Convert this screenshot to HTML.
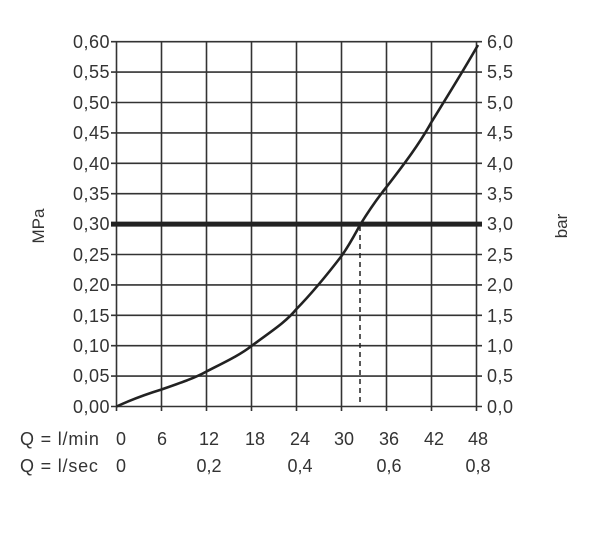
<!DOCTYPE html><html><head><style>body{margin:0;background:#fff}</style></head><body>
<svg width="613" height="530" xmlns="http://www.w3.org/2000/svg" font-family="Liberation Sans, sans-serif" font-size="18" fill="#333">
<g stroke="#333" stroke-width="1.6">
<line x1="116.5" y1="41.7" x2="116.5" y2="411"/>
<line x1="161.5" y1="41.7" x2="161.5" y2="411"/>
<line x1="206.5" y1="41.7" x2="206.5" y2="411"/>
<line x1="251.5" y1="41.7" x2="251.5" y2="411"/>
<line x1="296.5" y1="41.7" x2="296.5" y2="411"/>
<line x1="341.5" y1="41.7" x2="341.5" y2="411"/>
<line x1="386.5" y1="41.7" x2="386.5" y2="411"/>
<line x1="431.5" y1="41.7" x2="431.5" y2="411"/>
<line x1="476.5" y1="41.7" x2="476.5" y2="411"/>
<line x1="111" y1="41.7" x2="482" y2="41.7"/><line x1="111" y1="72.1" x2="482" y2="72.1"/><line x1="111" y1="102.5" x2="482" y2="102.5"/><line x1="111" y1="132.9" x2="482" y2="132.9"/><line x1="111" y1="163.3" x2="482" y2="163.3"/><line x1="111" y1="193.7" x2="482" y2="193.7"/><line x1="111" y1="254.5" x2="482" y2="254.5"/><line x1="111" y1="284.9" x2="482" y2="284.9"/><line x1="111" y1="315.3" x2="482" y2="315.3"/><line x1="111" y1="345.7" x2="482" y2="345.7"/><line x1="111" y1="376.1" x2="482" y2="376.1"/><line x1="111" y1="406.5" x2="482" y2="406.5"/>
</g>
<line x1="111" y1="224.1" x2="482" y2="224.1" stroke="#222" stroke-width="5"/>
<line x1="360" y1="226" x2="360" y2="406" stroke="#222" stroke-width="1.5" stroke-dasharray="5,4"/>
<path d="M116.5,406.5 C135,398 150,393 161.5,389.5 C180,383 195,378 206.5,371.5 C225,362 240,355 251.5,346 C270,332 285,323 296.5,309 C315,290 330,271 341.5,256 C350,244 355,234 360,225 C368,212 376,200 386.5,187 C405,163 420,143 431.5,122 C450,92 465,68 478,45" fill="none" stroke="#222" stroke-width="2.6"/>
<g text-anchor="end" letter-spacing="0.5">
<text x="110" y="48">0,60</text><text x="110" y="78">0,55</text><text x="110" y="109">0,50</text><text x="110" y="139">0,45</text><text x="110" y="170">0,40</text><text x="110" y="200">0,35</text><text x="110" y="230">0,30</text><text x="110" y="261">0,25</text><text x="110" y="291">0,20</text><text x="110" y="322">0,15</text><text x="110" y="352">0,10</text><text x="110" y="382">0,05</text><text x="110" y="413">0,00</text>
</g>
<g letter-spacing="0.5">
<text x="487" y="48">6,0</text><text x="487" y="78">5,5</text><text x="487" y="109">5,0</text><text x="487" y="139">4,5</text><text x="487" y="170">4,0</text><text x="487" y="200">3,5</text><text x="487" y="230">3,0</text><text x="487" y="261">2,5</text><text x="487" y="291">2,0</text><text x="487" y="322">1,5</text><text x="487" y="352">1,0</text><text x="487" y="382">0,5</text><text x="487" y="413">0,0</text>
</g>
<text transform="translate(44,226) rotate(-90)" text-anchor="middle" font-size="17">MPa</text>
<text transform="translate(567,226) rotate(-90)" text-anchor="middle" font-size="17">bar</text>
<text x="20" y="445" letter-spacing="0.8">Q = l/min</text>
<text x="20" y="472" letter-spacing="0.8">Q = l/sec</text>
<g text-anchor="middle">
<text x="121" y="445">0</text><text x="162" y="445">6</text><text x="209" y="445">12</text><text x="255" y="445">18</text><text x="300" y="445">24</text><text x="344" y="445">30</text><text x="389" y="445">36</text><text x="434" y="445">42</text><text x="478" y="445">48</text>
<text x="121" y="472">0</text><text x="209" y="472">0,2</text><text x="300" y="472">0,4</text><text x="389" y="472">0,6</text><text x="478" y="472">0,8</text>
</g>
</svg>
</body></html>
